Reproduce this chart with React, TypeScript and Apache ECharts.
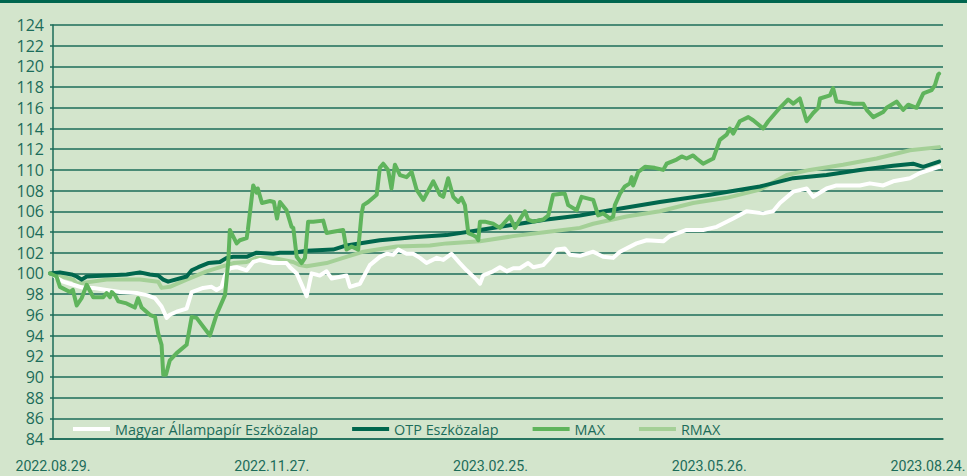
import React, { useEffect, useRef } from "react";
import * as echarts from "echarts";

// x = days since 2022.08.29, y = index value
const xLabels = ["2022.08.29.", "2022.11.27.", "2023.02.25.", "2023.05.26.", "2023.08.24."];
const xLabelDays = [0, 90, 180, 270, 360];
const yMin = 84;
const yMax = 124;
const yStep = 2;

const seriesNames = ["Magyar Állampapír Eszközalap", "OTP Eszközalap", "MAX", "RMAX"];

const magyar: [number, number][] = [
  [-1.2, 100.0], [2.2, 99.5], [4.2, 99.2], [8.4, 98.9], [12.5, 98.6], [16.6, 98.6], [22.1, 98.4], [27.6, 98.2],
  [34.4, 98.1], [38.6, 97.9], [42.0, 97.6], [44.7, 96.8], [46.8, 95.7], [48.1, 96.0], [50.9, 96.3], [55.0, 96.6],
  [57.1, 98.2], [61.8, 98.6], [65.3, 98.7], [67.3, 98.4], [69.4, 98.7], [70.8, 99.8], [72.8, 100.5], [75.6, 100.6],
  [79.7, 100.3], [82.4, 101.1], [85.2, 101.3], [90.6, 101.0], [96.1, 101.0], [97.5, 100.6], [100.3, 100.0],
  [104.4, 97.8], [106.4, 100.0], [109.8, 99.8], [112.6, 100.2], [114.7, 99.5], [120.8, 99.8], [122.2, 98.7],
  [126.3, 99.0], [130.4, 100.8], [134.5, 101.6], [137.3, 101.9], [140.0, 101.8], [142.1, 102.3], [145.5, 101.9],
  [148.2, 101.9], [151.0, 101.5], [153.7, 101.0], [157.9, 101.5], [160.6, 101.3], [164.0, 101.9], [167.4, 101.0],
  [170.2, 100.3], [174.3, 99.4], [175.7, 99.0], [177.0, 99.8], [181.1, 100.2], [183.9, 100.6], [186.7, 100.2],
  [189.4, 100.5], [192.1, 100.5], [195.5, 101.0], [197.6, 100.6], [201.7, 100.8], [204.5, 101.5], [207.2, 102.3],
  [210.6, 102.4], [212.7, 101.8], [216.8, 101.7], [222.3, 102.1], [226.4, 101.6], [230.5, 101.5], [233.3, 102.1],
  [240.1, 102.9], [244.3, 103.2], [251.1, 103.1], [253.8, 103.6], [260.7, 104.2], [267.5, 104.2], [273.1, 104.5],
  [279.9, 105.3], [285.4, 106.0], [292.2, 105.8], [296.3, 106.0], [299.1, 106.8], [304.6, 107.9], [310.1, 108.2],
  [312.8, 107.4], [318.3, 108.2], [322.4, 108.5], [332.0, 108.5], [336.1, 108.7], [341.6, 108.5], [345.7, 108.9],
  [352.6, 109.2], [356.7, 109.7], [360.8, 110.0], [364.6, 110.3],
];

const otp: [number, number][] = [
  [-1.2, 100.0], [2.9, 100.1], [7.7, 99.9], [9.8, 99.7], [11.8, 99.4], [13.9, 99.7], [22.1, 99.8], [30.3, 99.9],
  [35.8, 100.1], [39.9, 99.9], [43.3, 99.8], [45.4, 99.4], [47.4, 99.2], [55.0, 99.7], [57.1, 100.3], [59.8, 100.6],
  [63.9, 101.0], [68.7, 101.1], [71.5, 101.5], [74.2, 101.6], [79.7, 101.6], [83.8, 102.0], [90.6, 101.9],
  [93.4, 102.0], [98.9, 102.0], [104.4, 102.2], [115.3, 102.3], [120.8, 102.7], [134.5, 103.2], [148.2, 103.5],
  [162.0, 103.7], [175.7, 104.2], [189.4, 104.7], [203.1, 105.2], [216.8, 105.6], [229.2, 106.1], [249.7, 106.9],
  [270.3, 107.6], [290.9, 108.4], [304.6, 109.2], [318.3, 109.5], [332.0, 110.0], [345.7, 110.4], [353.9, 110.6],
  [358.1, 110.3], [362.1, 110.6], [364.6, 110.8],
];

const max: [number, number][] = [
  [-1.2, 100.0], [1.5, 99.7], [2.9, 98.7], [7.0, 98.2], [8.2, 98.4], [9.8, 96.9], [11.8, 97.6], [13.9, 98.9],
  [16.6, 97.7], [20.7, 97.7], [22.1, 98.1], [23.5, 97.7], [24.2, 98.2], [25.5, 97.9], [26.9, 97.3], [30.3, 97.1],
  [33.7, 96.7], [35.0, 97.6], [36.5, 96.7], [39.9, 96.0], [42.0, 95.8], [43.3, 94.2], [44.7, 93.1], [45.4, 90.2],
  [46.5, 90.2], [48.1, 91.6], [50.9, 92.3], [55.0, 93.1], [57.1, 95.8], [59.1, 95.7], [64.6, 94.0], [67.3, 96.0],
  [70.8, 97.9], [72.1, 101.0], [72.8, 104.2], [75.6, 102.9], [76.9, 103.2], [79.7, 103.4], [80.2, 104.2],
  [82.4, 108.5], [83.8, 107.8], [84.3, 108.2], [86.0, 106.8], [89.3, 107.0], [90.9, 106.9], [92.2, 105.3],
  [93.4, 106.9], [96.1, 106.1], [98.2, 104.5], [98.9, 104.4], [100.3, 101.6], [102.3, 101.0], [103.7, 101.5],
  [105.0, 105.0], [107.1, 105.0], [111.2, 105.1], [112.6, 103.9], [114.7, 104.0], [119.4, 104.2], [120.8, 102.3],
  [122.9, 102.6], [125.6, 102.3], [127.0, 105.8], [127.7, 106.6], [129.7, 106.9], [133.2, 107.6], [134.5, 110.2],
  [135.9, 110.6], [137.9, 110.0], [139.3, 108.2], [140.7, 110.5], [142.8, 109.5], [145.5, 109.3], [147.6, 109.8],
  [149.6, 108.1], [152.4, 107.1], [156.5, 108.9], [159.2, 107.6], [160.6, 107.4], [162.6, 109.2], [164.7, 107.4],
  [166.8, 106.9], [168.1, 107.3], [169.5, 106.6], [170.9, 103.9], [172.9, 103.7], [174.3, 103.5], [175.0, 103.2],
  [175.7, 105.0], [177.7, 105.0], [181.1, 104.8], [183.9, 104.4], [188.0, 105.5], [190.1, 104.4], [192.1, 105.2],
  [194.2, 106.0], [195.5, 105.2], [197.6, 105.0], [201.7, 105.2], [203.8, 105.6], [205.8, 107.6], [209.3, 107.7],
  [210.6, 107.7], [212.0, 106.6], [215.5, 106.1], [217.5, 107.4], [222.3, 107.1], [224.3, 105.6], [226.4, 105.8],
  [229.2, 105.3], [230.5, 105.5], [231.2, 106.6], [233.3, 107.7], [235.3, 108.4], [237.4, 108.7], [238.1, 109.3],
  [238.7, 108.5], [240.8, 109.8], [243.6, 110.3], [247.6, 110.2], [251.1, 110.0], [252.5, 110.6], [256.6, 111.0],
  [258.7, 111.3], [260.7, 111.1], [263.4, 111.4], [264.8, 111.1], [267.5, 110.6], [271.7, 111.1], [274.4, 112.9],
  [277.2, 113.4], [278.5, 114.0], [279.9, 113.5], [282.6, 114.7], [286.1, 115.1], [288.1, 114.8], [292.2, 114.0],
  [294.3, 114.7], [299.1, 116.0], [302.5, 116.8], [304.6, 116.4], [307.3, 116.9], [310.1, 114.7], [312.8, 115.5],
  [314.9, 116.0], [315.6, 116.9], [319.7, 117.2], [321.0, 117.9], [322.4, 116.6], [326.5, 116.5], [329.3, 116.4],
  [333.4, 116.4], [334.8, 115.8], [337.5, 115.1], [341.6, 115.6], [343.0, 116.0], [347.1, 116.6], [349.8, 115.8],
  [351.9, 116.3], [355.3, 116.0], [358.1, 117.4], [361.5, 117.7], [362.9, 118.2], [364.2, 119.2], [364.6, 119.3],
];

const rmax: [number, number][] = [
  [-1.2, 100.0], [8.4, 99.4], [9.8, 99.0], [22.1, 99.4], [35.8, 99.4], [43.3, 99.2], [44.7, 98.6], [48.1, 98.7],
  [55.0, 99.4], [63.2, 100.2], [70.1, 100.7], [74.2, 101.0], [79.7, 101.1], [83.8, 101.5], [90.6, 101.5],
  [98.9, 101.1], [101.6, 100.8], [104.4, 100.7], [112.6, 101.0], [118.1, 101.4], [127.7, 102.1], [141.4, 102.6],
  [155.1, 102.7], [162.0, 102.9], [175.7, 103.1], [189.4, 103.6], [203.1, 104.0], [216.8, 104.4], [222.3, 104.8],
  [236.0, 105.5], [249.7, 106.0], [263.4, 106.8], [277.2, 107.3], [290.9, 108.1], [301.9, 109.5], [311.4, 110.0],
  [325.1, 110.5], [338.9, 111.1], [352.6, 111.9], [364.6, 112.2],
];

const BG = "#d3e5cc";
const TEAL = "#1c6c5a";
const C_WHITE = "#ffffff";
const C_OTP = "#00674d";
const C_MAX = "#5fb45c";
const C_RMAX = "#a4d097";

export default function App() {
  const ref = useRef<HTMLDivElement>(null);
  useEffect(() => {
    document.body.style.margin = "0";
    if (!ref.current) return;
    const chart = echarts.init(ref.current, undefined, { renderer: "svg" });
    const lineStyle = (c: string) => ({ color: c, width: 4, join: "round" as const, cap: "round" as const });
    chart.setOption({
      animation: false,
      grid: { left: 50, right: 32, top: 25, bottom: 37 },
      legend: {
        data: seriesNames,
        left: 73,
        top: 422,
        icon: "rect",
        itemWidth: 37,
        itemHeight: 4,
        itemGap: 34,
        padding: 0,
        textStyle: { color: TEAL, fontSize: 14.4, fontFamily: "'Open Sans', sans-serif" },
      },
      xAxis: {
        type: "value",
        min: -1.2,
        max: 366.2,
        axisLine: { show: true, lineStyle: { color: TEAL, width: 1.5 } },
        axisTick: { show: false },
        splitLine: { show: false },
        axisLabel: {
          customValues: xLabelDays,
          margin: 20,
          color: TEAL,
          fontSize: 14.2,
          fontFamily: "Roboto, 'Liberation Sans', sans-serif",
          formatter: (v: number) => {
            const i = xLabelDays.indexOf(Math.round(v));
            return i >= 0 ? xLabels[i] : "";
          },
        },
      },
      yAxis: {
        type: "value",
        min: yMin,
        max: yMax,
        interval: yStep,
        axisLine: { show: true, lineStyle: { color: TEAL, width: 1.5 } },
        axisTick: { show: false },
        splitLine: { show: true, lineStyle: { color: TEAL, width: 1.5 } },
        axisLabel: { color: TEAL, fontSize: 16, margin: 6, fontFamily: "'Open Sans', sans-serif" },
      },
      series: [
        { name: "RMAX", type: "line", data: rmax, symbol: "none", color: C_RMAX, lineStyle: lineStyle(C_RMAX) },
        { name: "Magyar Állampapír Eszközalap", type: "line", data: magyar, symbol: "none", color: C_WHITE, lineStyle: lineStyle(C_WHITE) },
        { name: "OTP Eszközalap", type: "line", data: otp, symbol: "none", color: C_OTP, lineStyle: lineStyle(C_OTP) },
        { name: "MAX", type: "line", data: max, symbol: "none", color: C_MAX, lineStyle: lineStyle(C_MAX) },
      ],
    });
    return () => chart.dispose();
  }, []);
  return (
    <div style={{ position: "relative", width: 975, height: 476, background: "#ffffff" }}>
      <div
        style={{
          position: "absolute",
          left: 0,
          top: 0,
          width: 967,
          height: 476,
          background: BG,
          borderTop: "3px solid #00664f",
          boxSizing: "border-box",
        }}
      />
      <div ref={ref} style={{ position: "absolute", left: 0, top: 0, width: 975, height: 476 }} />
    </div>
  );
}
